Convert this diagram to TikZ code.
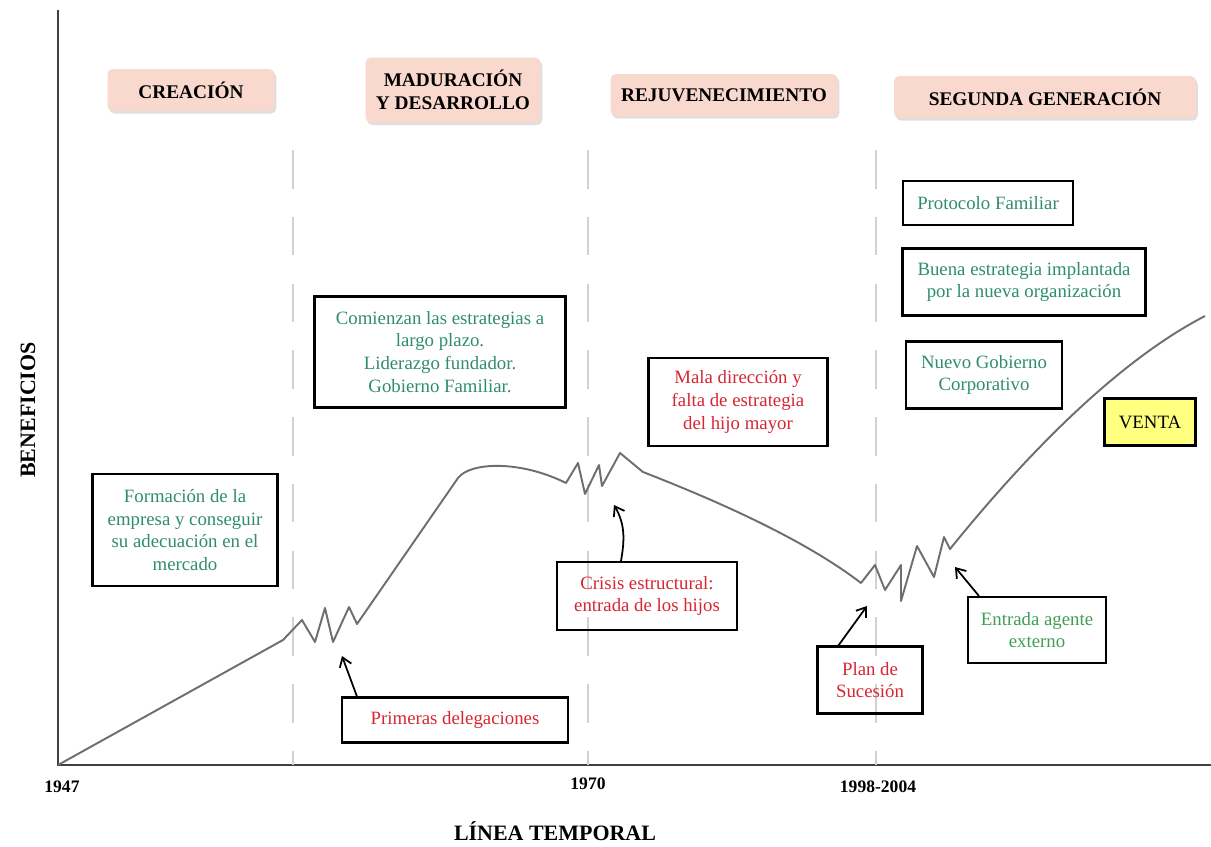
\documentclass[tikz,border=0pt]{standalone}
\usepackage{fontspec}
\setmainfont{Liberation Serif}
\usetikzlibrary{shadows,arrows.meta}

\definecolor{fasefill}{RGB}{249,216,206}
\definecolor{verdeazul}{RGB}{48,140,112}
\definecolor{verde}{RGB}{62,158,84}
\definecolor{rojo}{RGB}{214,38,52}
\definecolor{ventafill}{RGB}{255,255,128}
\definecolor{curva}{RGB}{110,110,110}

\tikzset{
  fase/.style={fill=fasefill, rounded corners=3pt, font=\bfseries\fontsize{11}{13}\selectfont,
    align=center, drop shadow={opacity=0.25, shadow xshift=1pt, shadow yshift=-1.5pt}},
  caja/.style={draw, line width=1.2pt, align=center, font=\fontsize{10.7}{13}\selectfont},
  corte/.style={draw=black!18, line width=1pt, dash pattern=on 22pt off 16pt},
  flecha/.style={-{Straight Barb[length=5pt,width=7pt]}, line width=1pt},
}

\begin{document}
\begin{tikzpicture}[x=0.02cm, y=-0.02cm]
    \useasboundingbox (0,0) rectangle (1211,846);

    % ejes
    \coordinate (O) at (58,765);
    \coordinate (Ytop) at (58,10);
    \coordinate (Xend) at (1211,765);
    \draw[line width=1.2pt, black!75] (Ytop) -- (O) -- (Xend);

    % separaciones entre fases
    \foreach \xx in {293,588,876}
        \draw[corte] (\xx,150) -- (\xx,765);

    % fases
    \node[fase, minimum width=167*0.02cm, minimum height=42*0.02cm] (creacion) at (191,90) {CREACIÓN};
    \node[fase, minimum width=175*0.02cm, minimum height=65*0.02cm] (maduracion) at (453,90) {MADURACIÓN\\Y DESARROLLO};
    \node[fase, minimum width=227*0.02cm, minimum height=42*0.02cm] (rejuv) at (724,95) {REJUVENECIMIENTO};
    \node[fase, minimum width=302*0.02cm, minimum height=42*0.02cm] (segunda) at (1045,97) {SEGUNDA GENERACIÓN};

    % curva de beneficios
    \draw[curva, line width=1.1pt, line join=round]
        (O) -- (283,640) -- (302,620) -- (315,642) -- (325,608) -- (333,642) -- (349,607) -- (357,624)
        -- (458,478) .. controls (470,462) and (520,460) .. (566,483)
        -- (578,463) -- (585,494) -- (599,465) -- (602,486) -- (620,453) -- (643,472)
        .. controls (720,502) and (805,540) .. (861,583)
        -- (875,565) -- (885,590) -- (901,565) -- (901,601) -- (917,546) -- (934,577) -- (944,537) -- (950,549)
        .. controls (1030,450) and (1120,360) .. (1205,316);

    % cuadros de texto
    \node[caja, text=verdeazul, minimum width=185*0.02cm, minimum height=112*0.02cm] (formacion) at (185,530)
        {Formación de la\\empresa y conseguir\\su adecuación en el\\mercado};
    \node[caja, text=verdeazul, minimum width=251*0.02cm, minimum height=111*0.02cm] (comienzan) at (440,352)
        {Comienzan las estrategias a\\largo plazo.\\Liderazgo fundador.\\Gobierno Familiar.};
    \node[caja, text=rojo, minimum width=179*0.02cm, minimum height=88*0.02cm] (mala) at (738,402)
        {Mala dirección y\\falta de estrategia\\del hijo mayor};
    \node[caja, text=rojo, minimum width=180*0.02cm, minimum height=68*0.02cm] (crisis) at (647,596)
        {Crisis estructural:\\entrada de los hijos};
    \node[caja, text=rojo, minimum width=226*0.02cm, minimum height=45*0.02cm] (primeras) at (455,720)
        {Primeras delegaciones};
    \node[caja, text=rojo, minimum width=105*0.02cm, minimum height=67*0.02cm] (plan) at (870,680)
        {Plan de\\Sucesión};
    \node[caja, text=verde, minimum width=138*0.02cm, minimum height=66*0.02cm] (entrada) at (1037,630)
        {Entrada agente\\externo};
    \node[caja, text=verdeazul, minimum width=170*0.02cm, minimum height=44*0.02cm] (protocolo) at (988,203)
        {Protocolo Familiar};
    \node[caja, text=verdeazul, minimum width=243*0.02cm, minimum height=67*0.02cm] (buena) at (1024,282)
        {Buena estrategia implantada\\por la nueva organización};
    \node[caja, text=verdeazul, minimum width=156*0.02cm, minimum height=67*0.02cm] (nuevo) at (984,375)
        {Nuevo Gobierno\\Corporativo};
    \node[caja, fill=ventafill, minimum width=91*0.02cm, minimum height=47*0.02cm] (venta) at (1150,422)
        {VENTA};

    % flechas
    \coordinate (pPrim) at (342,656);
    \coordinate (pCrisis) at (614,505);
    \coordinate (pPlan) at (867,606);
    \coordinate (pEntrada) at (955,567);
    \draw[flecha] (primeras.north west) ++(16,0) -- (pPrim);
    \draw[flecha] (crisis.north) ++(-26,0) to[out=80, in=-60] (pCrisis);
    \draw[flecha] (plan.north west) ++(22,0) -- (pPlan);
    \draw[flecha] (entrada.north west) ++(12,0) -- (pEntrada);

    % rotulos de ejes
    \node[font=\bfseries\fontsize{10}{12}\selectfont] (y1947) at (62,787) {1947};
    \node[font=\bfseries\fontsize{10}{12}\selectfont] (y1970) at (588,784) {1970};
    \node[font=\bfseries\fontsize{10}{12}\selectfont] (y1998) at (878,787) {1998-2004};
    \node[font=\bfseries\fontsize{12.5}{14}\selectfont, inner sep=1pt] (xlabel) at (555,831) {LÍNEA TEMPORAL};
    \node[font=\bfseries\fontsize{12.5}{14}\selectfont, rotate=90] (ylabel) at (28,410) {BENEFICIOS};
\end{tikzpicture}
\end{document}
